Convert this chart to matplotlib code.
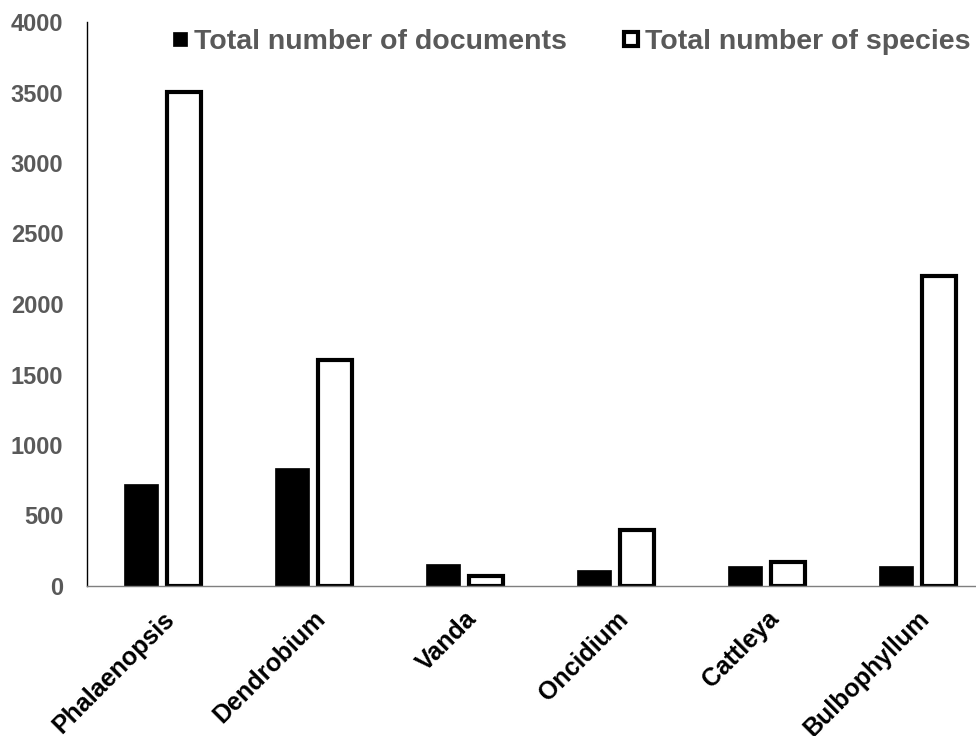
import matplotlib
matplotlib.use("Agg")
import matplotlib.pyplot as plt
from matplotlib.lines import Line2D
import numpy as np

plt.rcParams['font.family'] = ['Liberation Sans', 'DejaVu Sans']

genera = ["Phalaenopsis", "Dendrobium", "Vanda", "Oncidium", "Cattleya", "Bulbophyllum"]
documents = [720, 840, 155, 110, 140, 145]
species = [3500, 1600, 70, 400, 170, 2200]
y_ticks = [0, 500, 1000, 1500, 2000, 2500, 3000, 3500, 4000]

grey = "#595959"

fig = plt.figure(figsize=(9.76, 7.36), dpi=100)
# axes run past the right edge of the canvas, so the last group is clipped
ax = fig.add_axes([87 / 976, 150 / 736, 906 / 976, 564 / 736])

x = np.arange(len(genera))
w = 0.225
off = 0.143
ax.bar(x - off, documents, width=w, color="black", edgecolor="black", linewidth=0.5)
ax.bar(x + off, species, width=w, color="white", edgecolor="black", linewidth=3.0)

ax.set_xlim(-0.5, len(genera) - 0.5)
ax.set_ylim(0, 4000)
ax.set_yticks(y_ticks)
ax.set_yticklabels([str(v) for v in y_ticks], fontsize=17, fontweight="bold", color=grey)
ax.tick_params(axis="y", length=0, pad=17)

ax.set_xticks(x)
ax.set_xticklabels(genera, rotation=45, ha="right", rotation_mode="anchor",
                   fontsize=18, fontweight="bold", color="black")
ax.tick_params(axis="x", length=0, pad=15)

for s in ["top", "right"]:
    ax.spines[s].set_visible(False)
ax.spines["left"].set_color("black")
ax.spines["left"].set_linewidth(1.0)
ax.spines["bottom"].set_color("#7f7f7f")
ax.spines["bottom"].set_linewidth(1.0)

handles = [Line2D([], [], linestyle="none", marker="s", markersize=10.5,
                  markerfacecolor="black", markeredgecolor="black", markeredgewidth=0.5),
           Line2D([], [], linestyle="none", marker="s", markersize=10.0,
                  markerfacecolor="white", markeredgecolor="black", markeredgewidth=3.0)]
leg = fig.legend(handles, ["Total number of documents", "Total number of species"],
                 loc="center left", bbox_to_anchor=(171 / 976, 1 - 42 / 736),
                 ncol=2, frameon=False, handlelength=0.6,
                 handletextpad=0.2, columnspacing=1.95, borderpad=0, borderaxespad=0,
                 prop={"size": 20.5, "weight": "bold"})
for t in leg.get_texts():
    t.set_color(grey)

fig.savefig("out.png", dpi=100)
